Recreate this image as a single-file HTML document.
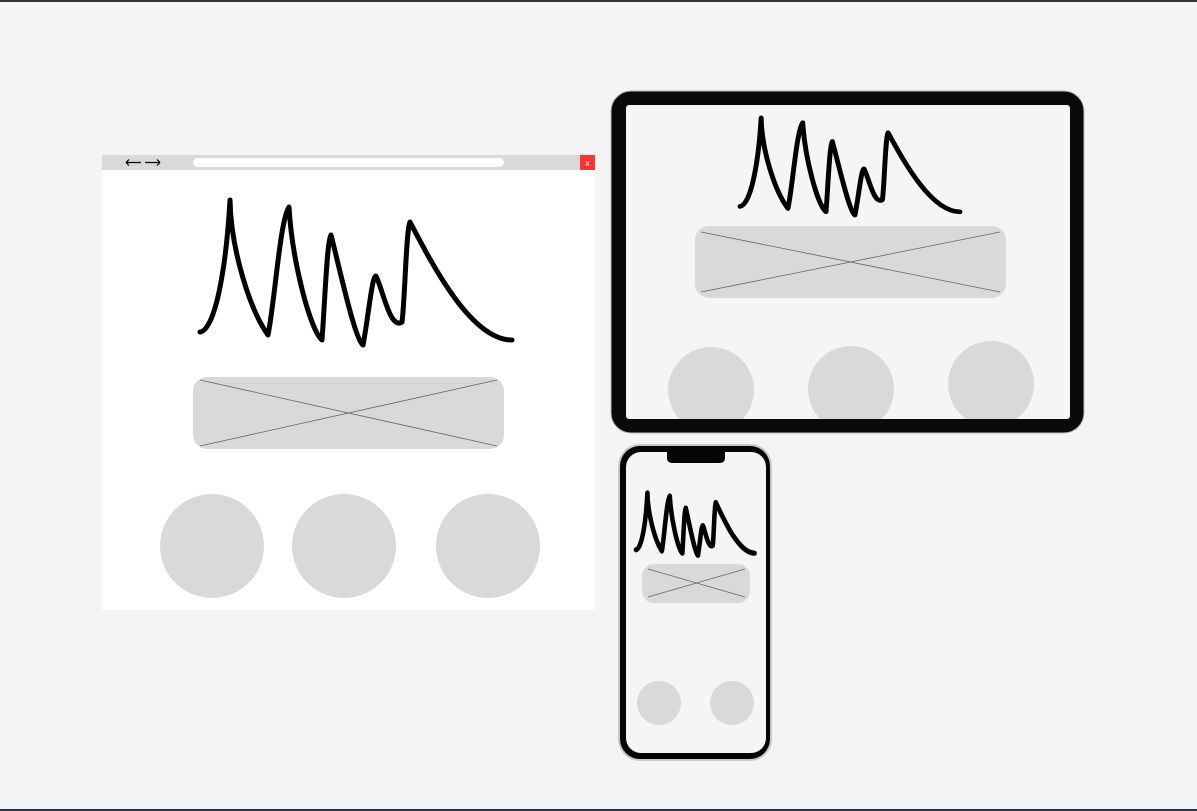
<!DOCTYPE html>
<html><head><meta charset="utf-8"><style>
html,body{margin:0;padding:0;width:1197px;height:811px;overflow:hidden;background:#f4f4f4;font-family:"Liberation Sans",sans-serif}
svg{display:block}
</style></head><body>
<svg width="1197" height="811" viewBox="0 0 1197 811">
<defs>
<path id="sq" d="M200,332 C215,330 226,270 230,200 C231,250 250,310 268,335 C275,300 280,220 289,207 C292,260 310,330 322,340 C325,300 327,240 331,235 C340,270 355,340 363,345 C368,320 372,275 376,276 C383,290 390,330 402,322 C405,300 406,230 410,222 C430,260 470,340 512,340" fill="none" stroke="#000" stroke-linecap="round" stroke-linejoin="round"/>
<clipPath id="tabclip"><rect x="626" y="105" width="444" height="314"/></clipPath>
</defs>
<rect x="0" y="0" width="1197" height="2" fill="#333"/>
<rect x="0" y="809" width="1197" height="2" fill="#2a2f4a"/>

<g>
<rect x="102" y="155" width="493" height="455" fill="#fff"/>
<rect x="102" y="155" width="493" height="15" fill="#d9d9d9"/>
<g stroke="#000" stroke-width="1.2" fill="none">
<path d="M126,162.5 H141 M126,162.5 L129,159.5 M126,162.5 L129,165.5"/>
<path d="M145,162.5 H160 M160,162.5 L157,159.5 M160,162.5 L157,165.5"/>
</g>
<rect x="193" y="158" width="311" height="9" rx="4.5" fill="#fff"/>
<rect x="580" y="155" width="15" height="15" fill="#ff3333"/>
<text x="587.5" y="166" font-size="9" fill="#fff" text-anchor="middle">x</text>
<use href="#sq" stroke-width="5"/>
<g>
<rect x="193" y="377" width="311" height="72" rx="14" fill="#d9d9d9"/>
<line x1="200" y1="380" x2="497" y2="446" stroke="#666" stroke-width="0.8"/>
<line x1="200" y1="446" x2="497" y2="380" stroke="#666" stroke-width="0.8"/>
</g>
<circle cx="212" cy="546" r="52" fill="#d9d9d9"/>
<circle cx="344" cy="546" r="52" fill="#d9d9d9"/>
<circle cx="488" cy="546" r="52" fill="#d9d9d9"/>
</g>

<g>
<rect x="611" y="91" width="473" height="342" rx="20" fill="#0a0a0a" stroke="#bbb" stroke-width="1"/>
<rect x="626" y="105" width="444" height="314" rx="3" fill="#f5f5f5"/>
<g clip-path="url(#tabclip)">
<use href="#sq" transform="translate(740,118) scale(0.705,0.67) translate(-200,-200)" stroke-width="7"/>
<g>
<rect x="695" y="226" width="311" height="72" rx="14" fill="#d9d9d9"/>
<line x1="701" y1="232" x2="1000" y2="292" stroke="#666" stroke-width="0.8"/>
<line x1="701" y1="292" x2="1000" y2="232" stroke="#666" stroke-width="0.8"/>
</g>
<circle cx="711" cy="390" r="43" fill="#d9d9d9"/>
<circle cx="851" cy="389" r="43" fill="#d9d9d9"/>
<circle cx="991" cy="384" r="43" fill="#d9d9d9"/>
</g>
</g>

<g>
<rect x="618" y="444" width="154" height="317" rx="22" fill="#c9c9c9"/>
<rect x="620" y="446" width="150" height="313" rx="20" fill="#050505"/>
<rect x="626" y="452" width="140" height="301" rx="15" fill="#f5f5f5"/>
<path d="M667,452 L725,452 L725,458 Q725,463 719,463 L673,463 Q667,463 667,458 Z" fill="#050505"/>
<use href="#sq" transform="translate(636,493) scale(0.38,0.43) translate(-200,-200)" stroke-width="12"/>
<g>
<rect x="642" y="564" width="108" height="39" rx="12" fill="#d9d9d9"/>
<line x1="648" y1="569" x2="745" y2="597" stroke="#666" stroke-width="0.8"/>
<line x1="648" y1="597" x2="745" y2="569" stroke="#666" stroke-width="0.8"/>
</g>
<circle cx="659" cy="703" r="22" fill="#d9d9d9"/>
<circle cx="732" cy="703" r="22" fill="#d9d9d9"/>
</g>
</svg>
</body></html>
